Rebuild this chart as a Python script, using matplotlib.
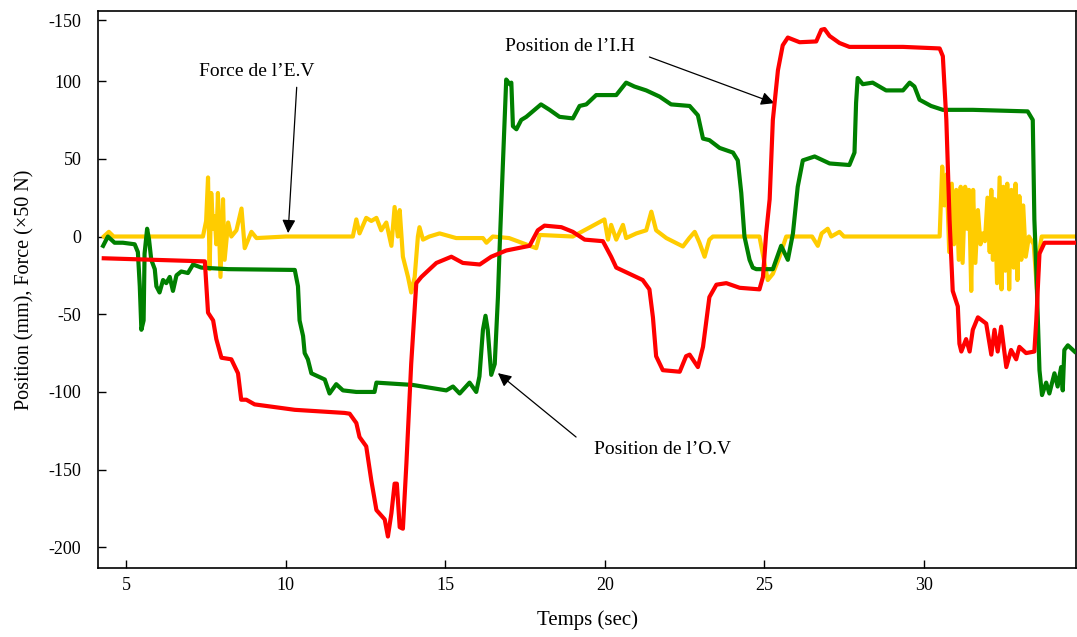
import matplotlib.pyplot as plt

plt.rcParams['font.family'] = ['Liberation Serif', 'DejaVu Serif']

# ── DATA ─────────────────────────────────────────────────────────────────────
# Position de l'I.H (red)
t_ih = [4.29, 7.46, 7.56, 7.72, 7.82, 7.98, 8.29, 8.5, 8.6, 8.76, 9.02, 10.28, 11.84,
        12.0, 12.21, 12.31, 12.52, 12.68, 12.84, 13.1, 13.2, 13.31, 13.41, 13.48, 13.57,
        13.67, 13.78, 13.93, 14.09, 14.25, 14.51, 14.72, 15.19, 15.55, 16.08, 16.44,
        16.91, 17.64, 17.9, 18.11, 18.64, 19.0, 19.37, 19.94, 20.2, 20.36, 20.62, 21.19,
        21.4, 21.51, 21.61, 21.82, 22.35, 22.55, 22.66, 22.92, 23.08, 23.28, 23.5, 23.81,
        24.23, 24.85, 24.96, 25.06, 25.17, 25.27, 25.43, 25.58, 25.74, 26.11, 26.63,
        26.79, 26.89, 27.05, 27.36, 27.67, 29.35, 30.5, 30.6, 30.71, 30.81, 30.91, 31.07,
        31.12, 31.18, 31.33, 31.44, 31.54, 31.7, 31.96, 32.12, 32.22, 32.32, 32.43, 32.59,
        32.74, 32.9, 33.0, 33.21, 33.47, 33.53, 33.63, 33.79, 34.79]
v_ih = [-14, -16, -49, -54, -66, -78, -79, -88, -105, -105, -108, -111.5, -113.5,
        -114, -120, -129, -135, -157, -176, -182, -193, -178, -159, -159, -187,
        -188, -146, -82, -30, -26, -21, -17, -13, -17, -18, -13,
        -9, -6, 4, 7, 6, 3, -2, -3, -13, -20, -22.5, -28,
        -34, -52, -77, -86, -87, -77, -76, -84, -71, -39, -31, -30,
        -33, -34, -26, 2, 24, 75, 107, 123, 128, 125, 125.5,
        133, 133.5, 129, 124.5, 122, 122, 121, 116, 75, 11, -35, -45,
        -69, -74, -66, -74, -60, -52, -56, -76, -60, -74, -58, -84,
        -73, -79, -71, -75, -74, -54, -11, -4, -4]

# Position de l'O.V (green)
t_ov = [4.27, 4.42, 4.63, 4.89, 5.26, 5.36, 5.42, 5.47, 5.54, 5.57, 5.65, 5.71, 5.78,
        5.89, 5.94, 6.04, 6.15, 6.25, 6.36, 6.46, 6.57, 6.72, 6.93, 7.09, 7.35, 8.19,
        10.28, 10.38, 10.43, 10.54, 10.59, 10.69, 10.8, 11.01, 11.22, 11.37, 11.58,
        11.79, 12.21, 12.78, 12.84, 13.98, 15.03, 15.24, 15.45, 15.76, 15.97, 16.07,
        16.18, 16.26, 16.33, 16.44, 16.55, 16.65, 16.7, 16.81, 16.91, 17.02, 17.07,
        17.12, 17.23, 17.38, 17.54, 18.0, 18.27, 18.58, 19.0, 19.21, 19.42, 19.73,
        20.36, 20.67, 20.93, 21.3, 21.72, 22.08, 22.66, 22.92, 23.08, 23.28, 23.6,
        24.02, 24.17, 24.28, 24.38, 24.54, 24.64, 24.75, 25.27, 25.53, 25.74, 25.9,
        26.05, 26.21, 26.58, 27.05, 27.67, 27.83, 27.88, 27.93, 28.09, 28.4, 28.82,
        29.35, 29.56, 29.71, 29.87, 30.23, 30.6, 31.54, 33.26, 33.42, 33.47, 33.53,
        33.58, 33.63, 33.71, 33.84, 33.94, 34.1, 34.2, 34.31, 34.36, 34.41, 34.52, 34.73]
v_ov = [-6, 0, -4, -4, -5, -10, -32, -60, -54, -11, 5, -2, -15,
        -21, -32, -36, -28, -30, -26, -35, -25, -22.5, -23.5, -18, -20, -21,
        -21.5, -32, -54, -64, -75, -79, -88, -90, -92, -101, -95,
        -99, -100, -100, -94, -95.5, -99, -96.5, -101, -94, -100, -90,
        -60, -51, -60, -89, -82, -39, -9, 49, 101, 98, 99,
        71, 69, 75, 77, 85, 81.5, 77, 76, 84, 85, 91,
        91, 99, 96.5, 94, 90, 85, 84, 78, 63, 62, 57,
        54, 49, 28, 0, -15, -20, -21, -21, -6, -15, 2,
        32, 49, 51.5, 47, 46, 54, 86, 102, 98, 99, 94,
        94, 99, 96.5, 88, 84, 81.5, 81.5, 80.5, 75, 11, -21,
        -54, -86, -102, -94, -101, -88, -96.5, -84, -99, -73, -70, -74]

# Force de l'E.V (yellow)
t_ev = [4.29, 4.45, 4.6, 5.0, 7.4, 7.5, 7.56, 7.61, 7.66, 7.72, 7.77, 7.82, 7.87, 7.95,
        8.03, 8.08, 8.19, 8.29, 8.45, 8.61, 8.71, 8.92, 9.08, 10.0, 11.0,
        12.1, 12.21, 12.31, 12.52, 12.68, 12.84, 12.99, 13.15, 13.31, 13.41,
        13.51, 13.57, 13.67, 13.83, 13.93, 14.04, 14.14, 14.19, 14.3, 14.5,
        14.82, 15.34, 16.18, 16.29, 16.49, 17.0, 17.85, 17.96, 19.0,
        19.99, 20.1, 20.2, 20.36, 20.57, 20.67, 20.99, 21.3, 21.46, 21.61,
        21.93, 22.45, 22.65, 22.82, 22.97, 23.13, 23.28, 23.39,
        24.85, 24.96, 25.11, 25.27, 25.48, 25.69,
        26.5, 26.68, 26.8, 26.99, 27.1, 27.36, 27.5, 30.5,
        30.58, 30.65, 30.72, 30.8, 30.88, 30.95, 31.02, 31.1, 31.16, 31.22,
        31.3, 31.36, 31.42, 31.49, 31.55, 31.62, 31.7, 31.78, 31.85, 31.92,
        32.0, 32.07, 32.12, 32.17, 32.23, 32.3, 32.38, 32.44, 32.5, 32.56,
        32.62, 32.68, 32.75, 32.82, 32.88, 32.94, 33.0, 33.06, 33.12, 33.2,
        33.3, 33.45, 33.55, 33.62, 33.7, 34.79]
v_ev = [0, 3, 0, 0, 0, 10, 38, -21, 28, 5, 13, -5, 28, -26,
        24, -15, 9, 0, 4, 18, -7.5, 3, -1, 0, 0,
        0, 11, 2, 12, 10, 12, 4, 9, -6, 19,
        0, 17, -13, -26, -36, -26, 0, 6, -2, 0,
        2, -1, -1, -4, 0, -1, -7.5, 1, 0,
        11, -2, 7.5, -2, 7.5, -1, 2, 4, 16, 4,
        -1, -6.4, -1, 3, -4, -13, -2, 0,
        0, -12, -28, -24, -13, 0,
        0, -6, 2, 5, 0, 3, 0, 0,
        45, 20, 40, -10, 34, -5, 30, -15, 32, -17,
        32, 5, 30, -35, 30, -17, 17, -5, 2, -3,
        25, -10, 30, -15, 24, -30, 38, -34, 32, -22,
        34, -34, 30, -20, 34, -28, 26, -15, 20, -13,
        0, -5, -34, -10, 0, 0]

y_ticks = [-200, -150, -100, -50, 0, 50, 100, 139]
y_tick_labels = ['-200', '-150', '-100', '-50', '0', '50', '100', '-150']
x_ticks = [5, 10, 15, 20, 25, 30]

# ── FIGURE ───────────────────────────────────────────────────────────────────
fig = plt.figure(figsize=(10.77, 6.37), dpi=100)
ax = fig.add_axes([0.091, 0.108, 0.9085, 0.875])

ax.plot(t_ev, v_ev, color='#FFCC00', linewidth=3.0, solid_joinstyle='round', zorder=2)
ax.plot(t_ov, v_ov, color='#008000', linewidth=3.0, solid_joinstyle='round', zorder=3)
ax.plot(t_ih, v_ih, color='#FF0000', linewidth=3.0, solid_joinstyle='round', zorder=4)

ax.set_xlim(4.11, 34.79)
ax.set_ylim(-213.4, 145.2)
ax.set_xticks(x_ticks)
ax.set_yticks(y_ticks)
ax.set_yticklabels(y_tick_labels)
ax.tick_params(axis='both', direction='in', length=6, width=1, labelsize=13)
ax.tick_params(axis='y', pad=12)
ax.tick_params(axis='x', pad=6)
for spine in ax.spines.values():
    spine.set_linewidth(1.2)

ax.set_xlabel('Temps (sec)', fontsize=15, labelpad=12)
ax.set_ylabel('Position (mm), Force (\u00d750 N)', fontsize=14.5, labelpad=10)

# ── ANNOTATIONS ──────────────────────────────────────────────────────────────
arrow = dict(arrowstyle='-|>', color='black', lw=0.9, mutation_scale=20,
             shrinkA=0, shrinkB=0)
ax.text(9.08, 106, 'Force de l\u2019E.V', ha='center', va='center', fontsize=14)
ax.annotate('', xy=(10.07, 2.2), xytext=(10.34, 96), arrowprops=arrow)
ax.text(18.9, 122, 'Position de l\u2019I.H', ha='center', va='center', fontsize=14)
ax.annotate('', xy=(25.32, 85.8), xytext=(21.4, 115.5), arrowprops=arrow)
ax.text(21.8, -137, 'Position de l\u2019O.V', ha='center', va='center', fontsize=14)
ax.annotate('', xy=(16.65, -87.9), xytext=(19.1, -129), arrowprops=arrow)

fig.savefig('out.png', dpi=100, facecolor='white')
